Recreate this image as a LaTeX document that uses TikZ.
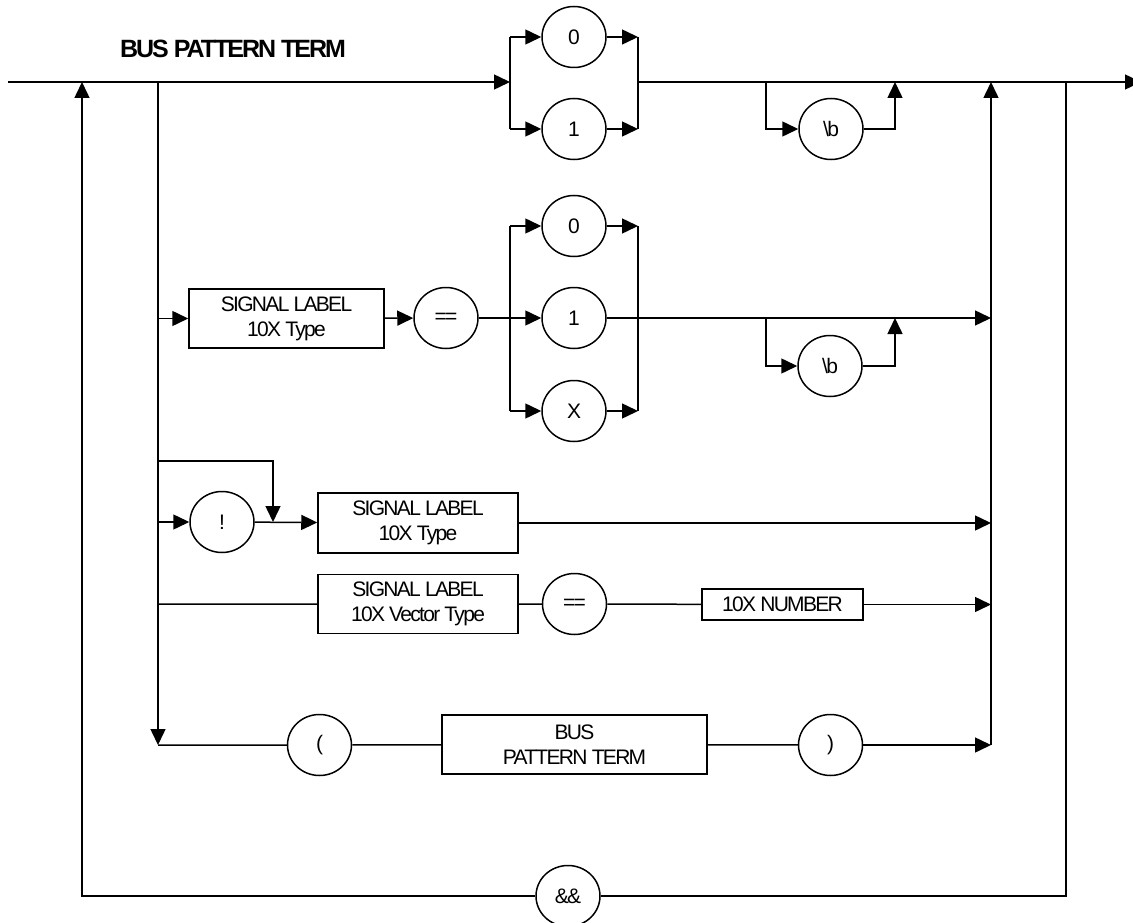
\documentclass[tikz,border=0pt]{standalone}
\usepackage{fontspec}
\newfontfamily\diafont[LetterSpace=-8]{Liberation Sans}
\usepackage{tikz}
\usetikzlibrary{arrows.meta,shapes.geometric}
\tikzset{
  >={Triangle[length=16pt,width=15pt]},
  every picture/.style={line width=1.5pt,font=\diafont\fontsize{21}{25}\selectfont},
  tok/.style={ellipse,draw,minimum width=64pt,minimum height=61pt,inner sep=0pt},
  bx/.style={draw,rectangle,align=center,inner sep=0pt},
  arr/.style={->},
  ttl/.style={font=\diafont\bfseries\fontsize{25}{30}\selectfont},
}

\begin{document}
\begin{tikzpicture}[x=1pt,y=-1pt]
  \useasboundingbox (0,0) rectangle (1133,923);
  \node[ttl,anchor=base] (title) at (233,58) {BUS PATTERN TERM};
  % rails
  \coordinate (in) at (8,82);
  \coordinate (out) at (1141,82);
  \coordinate (llp) at (82,82);
  \coordinate (brk) at (158,82);
  \coordinate (sp1) at (510,82);
  \coordinate (jn1) at (638,82);
  \coordinate (op1) at (766,82);
  \coordinate (oq1) at (895,82);
  \coordinate (col) at (991,82);
  \coordinate (rlp) at (1066,82);
  \coordinate (byp) at (273,461);
  % tokens
  \node[tok] (c0a) at (574,37) {0};
  \node[tok] (c1a) at (574,129) {1};
  \node[tok] (bA) at (831,129) {\textbackslash b};
  \node[bx,minimum width=195pt,minimum height=59pt] (lblA) at (286.5,318.5) {SIGNAL LABEL\\10X Type};
  \node[tok] (eqA) at (446,318) {==};
  \node[tok] (c0b) at (574,226) {0};
  \node[tok] (c1b) at (574,318) {1};
  \node[tok] (cXb) at (574,411) {X};
  \node[tok] (bB) at (830,366) {\textbackslash b};
  \node[tok] (bang) at (222,522) {!};
  \node[bx,minimum width=200pt,minimum height=60pt] (lblB) at (418,523) {SIGNAL LABEL\\10X Type};
  \node[bx,minimum width=200pt,minimum height=59pt] (lblC) at (418,604) {SIGNAL LABEL\\10X Vector Type};
  \node[tok] (eqC) at (574.5,604) {==};
  \node[bx,minimum width=161pt,minimum height=31pt] (numC) at (782.5,604.5) {10X NUMBER};
  \node[tok] (lpar) at (319.5,745) {(};
  \node[bx,minimum width=265pt,minimum height=59pt] (busT) at (574.5,744.5) {BUS\\PATTERN TERM};
  \node[tok] (rpar) at (830.5,745) {)};
  \node[tok] (andand) at (568,896) {\&\&};
  % top row
  \draw[arr] (in) -- (sp1);
  \draw (sp1 |- c0a) -- (sp1 |- c1a);
  \draw[arr] (sp1 |- c0a) -- (c0a);
  \draw[arr] (sp1 |- c1a) -- (c1a);
  \draw[arr] (c0a) -- (jn1 |- c0a);
  \draw[arr] (c1a) -- (jn1 |- c1a);
  \draw (jn1 |- c0a) -- (jn1 |- c1a);
  \draw[arr] (jn1) -- (out);
  \draw[arr] (op1) |- (bA);
  \draw[arr] (bA) -| (oq1);
  % branch, collector and loop
  \draw[arr] (brk) -- (brk |- lpar);
  \draw[arr] (col |- rpar) -- (col);
  \draw (rlp) |- (andand);
  \draw[arr] (andand) -| (llp);
  % row 2
  \draw[arr] (brk |- lblA) -- (lblA);
  \draw[arr] (lblA) -- (eqA);
  \draw (eqA) -- (sp1 |- c1b);
  \draw (sp1 |- c0b) -- (sp1 |- cXb);
  \draw[arr] (sp1 |- c0b) -- (c0b);
  \draw[arr] (sp1 |- c1b) -- (c1b);
  \draw[arr] (sp1 |- cXb) -- (cXb);
  \draw[arr] (c0b) -- (jn1 |- c0b);
  \draw[arr] (cXb) -- (jn1 |- cXb);
  \draw (jn1 |- c0b) -- (jn1 |- cXb);
  \draw[arr] (c1b) -- (col |- c1b);
  \draw[arr] (op1 |- c1b) |- (bB);
  \draw[arr] (bB) -| (oq1 |- c1b);
  % row 3
  \draw[arr] (brk |- bang) -- (bang);
  \draw[arr] (brk |- byp) -| (byp |- bang);
  \draw[arr] (bang) -- (lblB);
  \draw[arr] (lblB) -- (col |- lblB);
  % row 4
  \draw (brk |- lblC) -- (lblC) -- (eqC) -- (numC);
  \draw[arr] (numC) -- (col |- numC);
  % row 5
  \draw (brk |- lpar) -- (lpar) -- (busT) -- (rpar);
  \draw[arr] (rpar) -- (col |- rpar);
\end{tikzpicture}
\end{document}
